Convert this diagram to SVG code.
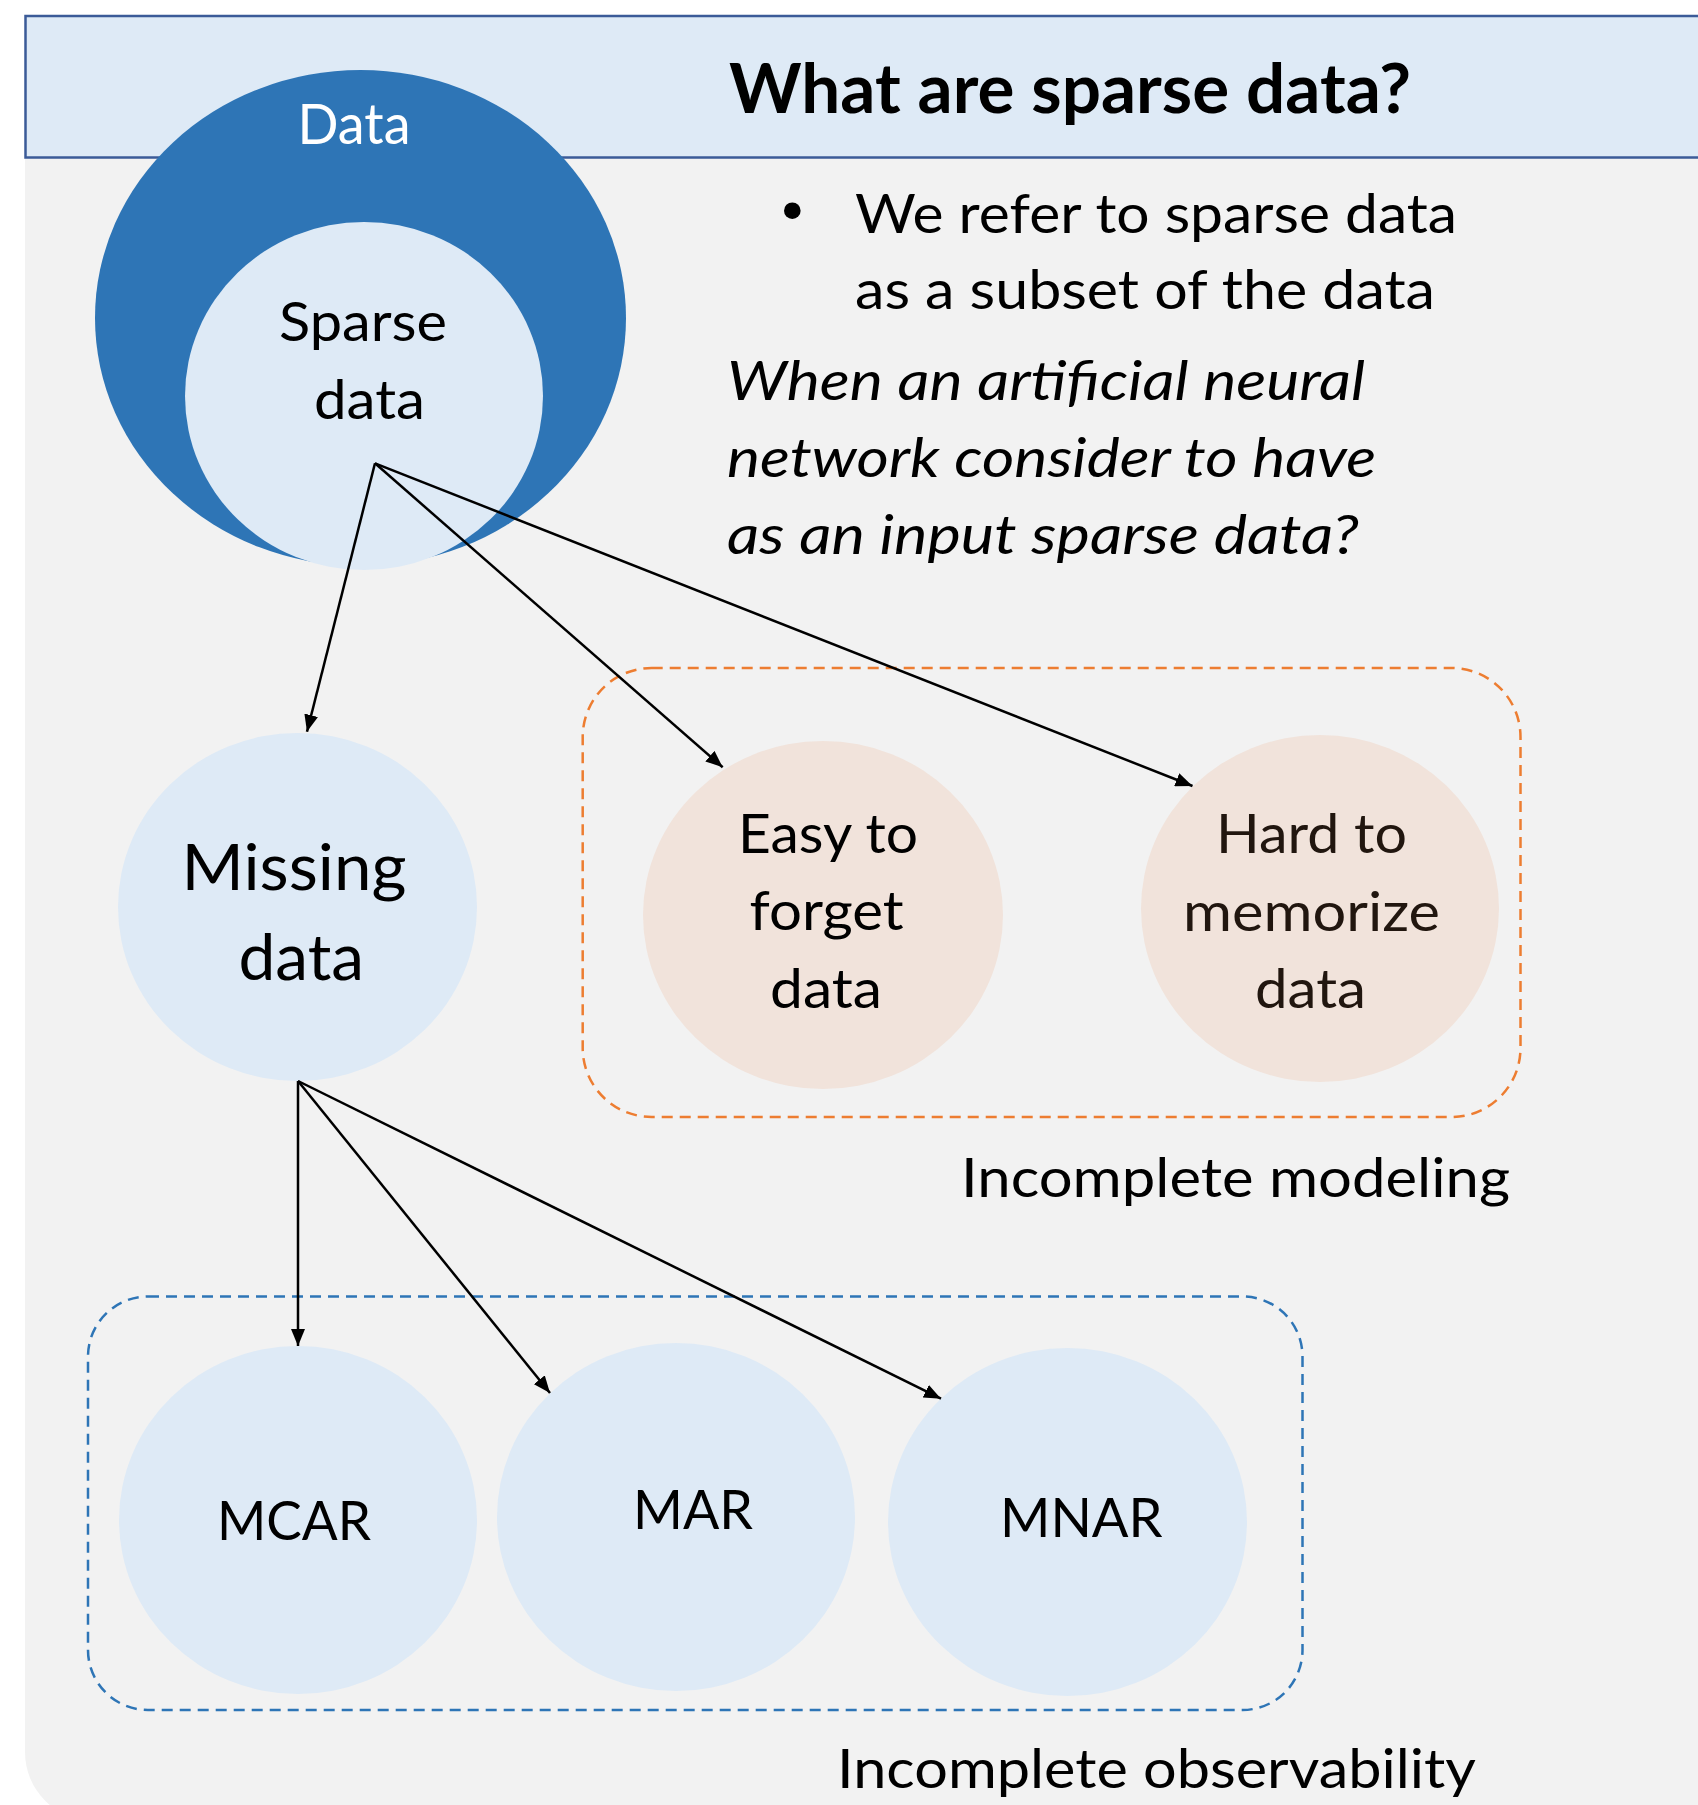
<svg xmlns="http://www.w3.org/2000/svg" width="1698" height="1805" viewBox="0 0 1698 1805">
  <style>
    text { font-family: Lato, "Open Sans", "Liberation Sans", sans-serif; fill: #000; }
    .t { font-size: 55px; }
    .big { font-size: 64px; }
    .title { font-size: 68px; font-weight: bold; }
    .it { font-size: 55px; font-style: italic; }
    .light { fill: #DEEAF6; }
    .warm { fill: #F1E3DB; }
    .brown { fill: #21160F; }
    .conn { stroke: #000; stroke-width: 2.5; fill: none; marker-end: url(#arrow); }
    .grp { fill: none; stroke-width: 2.5; stroke-dasharray: 11 7; }
  </style>
  <defs>
    <marker id="arrow" viewBox="0 0 17 14" refX="17" refY="7" markerWidth="17" markerHeight="14" markerUnits="userSpaceOnUse" orient="auto">
      <path d="M0,0 L17,7 L0,14 Z" fill="#000"/>
    </marker>
  </defs>

  <!-- page background -->
  <rect width="1698" height="1805" fill="#FFFFFF"/>
  <path d="M25,150 H1698 V1821 H94 A69,69 0 0 1 25,1752 Z" fill="#F2F2F2"/>

  <!-- header band -->
  <g id="header">
    <rect x="25.5" y="16" width="1700" height="141.5" fill="#DEEAF6" stroke="#3B5B98" stroke-width="2.5"/>
    <text class="title" x="729" y="113" textLength="682" lengthAdjust="spacingAndGlyphs">What are sparse data?</text>
  </g>

  <!-- group frames -->
  <g id="group-modeling">
    <rect class="grp" x="582.7" y="668" width="937.8" height="449" rx="69" ry="69" stroke="#ED7D31"/>
    <text class="t" x="961" y="1197" textLength="549" lengthAdjust="spacingAndGlyphs">Incomplete modeling</text>
  </g>
  <g id="group-observability">
    <rect class="grp" x="88" y="1296.5" width="1214.5" height="413.5" rx="60" ry="60" stroke="#2E75B6"/>
    <text class="t" x="837" y="1788" textLength="639" lengthAdjust="spacingAndGlyphs">Incomplete observability</text>
  </g>

  <!-- Data / Sparse data -->
  <g id="node-data">
    <ellipse cx="360.5" cy="318" rx="265.5" ry="248" fill="#2E75B6"/>
    <text x="297.5" y="144" style="font-size:56px;fill:#FFFFFF" textLength="113" lengthAdjust="spacingAndGlyphs">Data</text>
  </g>
  <g id="node-sparse">
    <ellipse class="light" cx="364" cy="396" rx="179" ry="174"/>
    <text x="279" y="340.6" style="font-size:54px" textLength="168" lengthAdjust="spacingAndGlyphs">Sparse</text>
    <text x="314" y="419" style="font-size:54px" textLength="111" lengthAdjust="spacingAndGlyphs">data</text>
  </g>

  <!-- definition text -->
  <g id="note">
    <circle cx="792.3" cy="210.7" r="8.3" fill="#000"/>
    <text class="t" x="855" y="233" textLength="602" lengthAdjust="spacingAndGlyphs">We refer to sparse data</text>
    <text class="t" x="855" y="309.3" textLength="580" lengthAdjust="spacingAndGlyphs">as a subset of the data</text>
    <text class="it" x="727" y="400" textLength="638" lengthAdjust="spacingAndGlyphs">When an artificial neural</text>
    <text class="it" x="727" y="477" textLength="649" lengthAdjust="spacingAndGlyphs">network consider to have</text>
    <text class="it" x="727" y="554" textLength="632" lengthAdjust="spacingAndGlyphs">as an input sparse data?</text>
  </g>

  <!-- Missing data -->
  <g id="node-missing">
    <ellipse class="light" cx="297.5" cy="907" rx="179.5" ry="174"/>
    <text class="big" x="181.5" y="890" textLength="225" lengthAdjust="spacingAndGlyphs">Missing</text>
    <text class="big" x="238.5" y="980" textLength="125.5" lengthAdjust="spacingAndGlyphs">data</text>
  </g>

  <!-- Easy to forget data -->
  <g id="node-easy">
    <ellipse class="warm" cx="823" cy="915" rx="180" ry="174"/>
    <text class="t" x="738" y="852.6" textLength="180" lengthAdjust="spacingAndGlyphs">Easy to</text>
    <text class="t" x="749.5" y="930" textLength="154" lengthAdjust="spacingAndGlyphs">forget</text>
    <text class="t" x="770" y="1007.6" textLength="112" lengthAdjust="spacingAndGlyphs">data</text>
  </g>

  <!-- Hard to memorize data -->
  <g id="node-hard">
    <ellipse class="warm" cx="1320" cy="908.5" rx="179" ry="173.5"/>
    <text class="t brown" x="1216" y="853" textLength="191" lengthAdjust="spacingAndGlyphs">Hard to</text>
    <text class="t brown" x="1183" y="931" textLength="257" lengthAdjust="spacingAndGlyphs">memorize</text>
    <text class="t brown" x="1255" y="1007.6" textLength="111" lengthAdjust="spacingAndGlyphs">data</text>
  </g>

  <!-- missingness mechanisms -->
  <g id="node-mcar">
    <ellipse class="light" cx="298" cy="1520" rx="179" ry="174"/>
    <text class="t" x="217" y="1539.5" textLength="154" lengthAdjust="spacingAndGlyphs">MCAR</text>
  </g>
  <g id="node-mar">
    <ellipse class="light" cx="676" cy="1517" rx="179" ry="174"/>
    <text class="t" x="633" y="1528.7" textLength="120" lengthAdjust="spacingAndGlyphs">MAR</text>
  </g>
  <g id="node-mnar">
    <ellipse class="light" cx="1067.5" cy="1522" rx="179.5" ry="174"/>
    <text class="t" x="1000" y="1536.8" textLength="162.6" lengthAdjust="spacingAndGlyphs">MNAR</text>
  </g>

  <!-- connectors -->
  <g id="connectors">
    <line class="conn" x1="375" y1="463.3" x2="307" y2="731.7"/>
    <line class="conn" x1="375" y1="463.3" x2="722.7" y2="767.3"/>
    <line class="conn" x1="375" y1="463.3" x2="1192.5" y2="786"/>
    <line class="conn" x1="298" y1="1081" x2="298" y2="1346"/>
    <line class="conn" x1="298" y1="1081" x2="550" y2="1393"/>
    <line class="conn" x1="298" y1="1081" x2="941" y2="1398.7"/>
  </g>
</svg>
